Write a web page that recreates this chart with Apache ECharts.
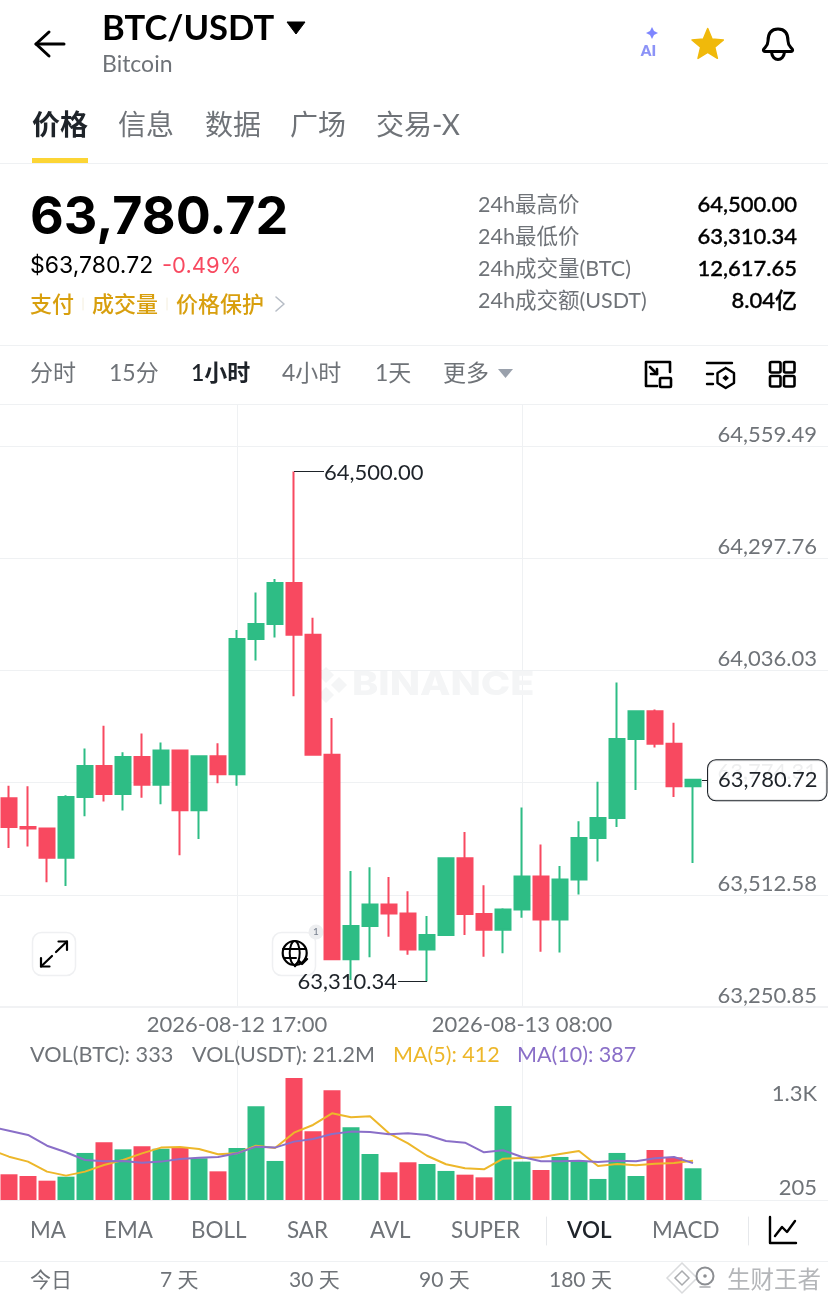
<!DOCTYPE html>
<html><head><meta charset="utf-8">
<style>html,body{margin:0;padding:0;background:#fff}#c{width:828px;height:1304px}</style>
<script src="https://cdn.jsdelivr.net/npm/echarts@6/dist/echarts.min.js"></script>
</head><body><div id="c"></div>
<script>
const categories = [
'2026-08-12 04:00','2026-08-12 05:00','2026-08-12 06:00','2026-08-12 07:00','2026-08-12 08:00','2026-08-12 09:00','2026-08-12 10:00','2026-08-12 11:00','2026-08-12 12:00','2026-08-12 13:00','2026-08-12 14:00','2026-08-12 15:00','2026-08-12 16:00','2026-08-12 17:00','2026-08-12 18:00','2026-08-12 19:00','2026-08-12 20:00','2026-08-12 21:00','2026-08-12 22:00','2026-08-12 23:00',
'2026-08-13 00:00','2026-08-13 01:00','2026-08-13 02:00','2026-08-13 03:00','2026-08-13 04:00','2026-08-13 05:00','2026-08-13 06:00','2026-08-13 07:00','2026-08-13 08:00','2026-08-13 09:00','2026-08-13 10:00','2026-08-13 11:00','2026-08-13 12:00','2026-08-13 13:00','2026-08-13 14:00','2026-08-13 15:00','2026-08-13 16:00','2026-08-13 17:00','2026-08-13 18:00','2026-08-13 19:00','2026-08-13 20:00','2026-08-13 21:00','2026-08-13 22:00','2026-08-13 23:00','2026-08-14 00:00'];
const timeTickLabels = ['2026-08-12 17:00','2026-08-13 08:00'];
const opens  = [null,63738,63671,63667,63599,63741,63813,63748,63834,63769,63849,63710,63836,63794,64109,64144,64240,64119,63839,63362,63440,63490,63469,63385,63419,63598,63468,63431,63478,63555,63455,63548,63645,63692,63876,63941,63865,63766];
const closes = [null,63671,63667,63599,63741,63813,63748,63834,63769,63849,63710,63836,63794,64109,64144,64240,64119,63839,63362,63440,63490,63469,63385,63419,63598,63468,63431,63478,63555,63455,63548,63645,63692,63876,63941,63865,63766,63780.72];
const lows   = [null,63622,63625,63542,63533,63696,63730,63709,63739,63724,63605,63643,63773,63767,64059,64113,63976,63839,63362,63314,63367,63415,63373,63310.34,63419,63419,63368,63376,63459,63380,63378,63513,63590,63671,63757,63856,63741,63587];
const highs  = [null,63767,63766,63667,63745,63854,63907,63845,63889,63868,63849,63836,63866,64130,64218,64249,64500,64159,63925,63568,63577,63554,63521,63463,63598,63659,63535,63481,63716,63630,63580,63684,63776,64008,63941,63945,63914,63782];
const volumes= [null,270,252,203,245,494,606,532,564,539,553,438,301,546,984,410,1281,721,1152,763,483,291,396,378,305,266,238,987,403,315,452,410,221,494,252,525,448,333];
const ma5    = [530,455,403,298,256,298,368,420,490,550,557,536,480,490,570,546,707,788,910,868,879,700,595,465,375,333,322,434,441,448,483,515,357,378,364,381,389,412];
const ma10   = [770,728,683,570,501,420,406,410,392,403,431,444,451,490,560,550,613,641,693,718,714,690,700,683,620,602,501,522,452,406,406,413,399,413,406,438,452,387];
const priceTicks = [63250.85,63512.58,63774.31,64036.03,64297.76,64559.49];
const volTickPositions = [205,1197];
const volTickLabels = ['205','1.3K'];
const highPrice = 64500, lowPrice = 63310.34, lastPrice = 63780.72;

const UP='#2EBD85', DOWN='#F84960', GRAY='#6F7378', INK='#1E2329', LINE='#EFF1F3';
const LATIN="Lato,'Noto Sans CJK SC',sans-serif";
const fmt=v=>v.toLocaleString('en-US',{minimumFractionDigits:2,maximumFractionDigits:2});
const chart=echarts.init(document.getElementById('c'),null,{renderer:'canvas',width:828,height:1304});

echarts.graphic.registerShape('bellDome',echarts.graphic.extendPath('M778 29C769 29 768 36 768 41C768 46 765 47 763.5 49.5C763 51 764 51.5 765 51.5L791 51.5C792 51.5 793 51 792.5 49.5C791 47 788 46 788 41C788 36 787 29 778 29Z'));
echarts.graphic.registerShape('bellClap',echarts.graphic.extendPath('M771.5 52C772 57 775 59.5 778 59.5C781 59.5 784 57 784.5 52'));

const g=[];
const T=(x,y,text,size,fill,weight,align,extra,family)=>g.push({type:'text',z:1,silent:true,style:Object.assign({x,y,text,fill,font:`${weight||400} ${size}px ${family||LATIN}`,textAlign:align||'left',textVerticalAlign:'middle'},extra||{})});
const L=(pts,stroke,w,extra)=>g.push({type:'polyline',z:1,silent:true,shape:{points:pts},style:Object.assign({stroke,lineWidth:w||1,fill:null,lineCap:'round',lineJoin:'round'},extra||{})});
const F=(pts,fill,extra)=>g.push({type:'polygon',z:1,silent:true,shape:{points:pts},style:Object.assign({fill},extra||{})});
const R=(x,y,w,h,r,style)=>g.push({type:'rect',z:1,silent:true,shape:{x,y,width:w,height:h,r},style});
const C=(cx,cy,r,style)=>g.push({type:'circle',z:1,silent:true,shape:{cx,cy,r},style});
const INTER="Inter,'Noto Sans CJK SC',sans-serif";

// header
L([[36,44],[64,44]],'#000',3);L([[49,32],[36,44],[49,56]],'#000',3);
T(102,29,'BTC/USDT',34.6,'#000',700);
F([[287,22],[305,22],[296,34]],'#000',{stroke:'#000',lineWidth:1,lineJoin:'round'});
T(102,65,'Bitcoin',23,GRAY);
F([[652,27],[654,31],[658,33],[654,35],[652,39],[650,35],[646,33],[650,31]],'#7E86FF');
T(648.5,51,'AI',15,'#8C93F7',800,'center');
const star=[];for(let i=0;i<10;i++){const a=-Math.PI/2+i*Math.PI/5,r=i%2?7.4:16.5;star.push([707.7+r*Math.cos(a),45+r*Math.sin(a)]);}
F(star,'#F0B90B',{stroke:'#F0B90B',lineWidth:1.5,lineJoin:'round'});
g.push({type:'bellDome',z:1,silent:true,style:{stroke:'#000',lineWidth:3,fill:null,lineJoin:'round'}});
g.push({type:'bellClap',z:1,silent:true,style:{stroke:'#000',lineWidth:3,fill:null}});
// tabs
T(32,126,'价格',28,INK,600);
[[118,'信息'],[205,'数据'],[290,'广场'],[376,'交易-X']].forEach(a=>T(a[0],126,a[1],28,GRAY));
R(32,158,56,5,0,{fill:'#FCD535'});
[[163],[345],[404],[1261]].forEach(a=>L([[0,a[0]+.5],[828,a[0]+.5]],LINE,1));
// price block
T(30,218,'63,780.72',52,'#000',700,'left',null,INTER);
T(30,266,'$63,780.72',23,'#000',400,'left',null,INTER);
T(162,266,'-0.49%',22,DOWN,400,'left',null,INTER);
T(30,305,'支付',22,'#D89F0E',500);T(92,305,'成交量',22,'#D89F0E',500);T(176,305,'价格保护',22,'#D89F0E',500);
L([[83,298],[83,310]],'#F4EEDC',1);L([[167,298],[167,310]],'#F4EEDC',1);
L([[276,297],[284,304],[276,311]],'#B7BDC6',1.6);
[[205,'24h最高价','64,500.00'],[237,'24h最低价','63,310.34'],[269,'24h成交量(BTC)','12,617.65'],[301,'24h成交额(USDT)','8.04亿']].forEach(r=>{T(478,r[0],r[1],21.5,GRAY);T(797,r[0],r[2],22,'#000',500,'right',{stroke:'#000',lineWidth:.35});});
// interval row
[[30,'分时'],[109,'15分'],[282,'4小时'],[375,'1天'],[443,'更多']].forEach(a=>T(a[0],374,a[1],23,GRAY));
T(191,374,'1小时',23,INK,600);
F([[498,369],[513,369],[505.5,378]],'#9AA1AC');
L([[657,386],[646,386],[646,362],[670,362],[670,372]],'#000',2.6);
R(660,378,11,9,1,{stroke:'#000',lineWidth:2.6,fill:null});
L([[650,367],[657,374]],'#000',2.6);L([[657,369],[657,374],[651,374]],'#000',2.6);
L([[707,363],[732,363]],'#000',2.4);L([[707,374],[713,374]],'#000',2.4);L([[707,384],[713,384]],'#000',2.4);
L([[725.7,368],[734,373],[734,383],[725.7,388],[717.5,383],[717.5,373],[725.7,368]],'#000',2.4);
F([[725.7,375],[729,378],[725.7,381],[722.4,378]],'#000');
[[770,362],[784,362],[770,376],[784,376]].forEach(p=>R(p[0],p[1],10.5,10.5,1.5,{stroke:'#000',lineWidth:2.6,fill:null}));
// watermark
const wm='#F4F5F6';
g.push({type:'text',z:1,silent:true,x:352,y:685,scaleX:1.2,style:{x:0,y:0,text:'BINANCE',fill:wm,font:`800 33px ${INTER}`,textAlign:'left',textVerticalAlign:'middle'}});
F([[326,667],[334,675],[326,683],[318,675]],wm);F([[326,687],[334,695],[326,703],[318,695]],wm);F([[313,677],[321,685],[313,693],[305,685]],wm);F([[339,677],[347,685],[339,693],[331,685]],wm);
// chart buttons
R(32.5,932.5,43,43,9,{stroke:'#EFF0F2',lineWidth:1.5,fill:'#fff'});
L([[41,966.5],[52,956]],'#000',2.2);L([[41,958],[41,966.5],[49.5,966.5]],'#000',2.2);
L([[56,952],[67,941.5]],'#000',2.2);L([[58.5,941.5],[67,941.5],[67,950]],'#000',2.2);
R(272.5,932.5,43,43,9,{stroke:'#EFF0F2',lineWidth:1.5,fill:'#fff'});
C(294.7,953,12,{stroke:'#000',lineWidth:2.2,fill:'#fff'});
g.push({type:'ellipse',z:1,silent:true,shape:{cx:294.7,cy:953,rx:5,ry:12},style:{stroke:'#000',lineWidth:2,fill:null}});
L([[283,949],[306,949]],'#000',2);L([[284,958],[296,958]],'#000',2);
L([[295,966],[299,961],[302,964],[307,959]],'#000',2.4);
C(316,932,7.5,{fill:'#EDEEF0'});T(316,932,'1',10,'#7A8290',500,'center');
// volume legend
T(30,1055,'VOL(BTC): 333',21.7,GRAY);T(192,1055,'VOL(USDT): 21.2M',21.5,GRAY);
T(393,1055,'MA(5): 412',21.5,'#EDB72A');T(517,1055,'MA(10): 387',21.5,'#8A6FC8');
// indicator tabs
[[30,'MA'],[104,'EMA'],[191,'BOLL'],[287,'SAR'],[370,'AVL'],[451,'SUPER'],[652,'MACD']].forEach(a=>T(a[0],1231,a[1],22.4,GRAY));
T(567,1231,'VOL',22.4,INK,600);
L([[546.5,1217],[546.5,1245]],'#E6E8EB',1);L([[748.5,1217],[748.5,1245]],'#E6E8EB',1);
L([[770,1217],[770,1243],[796,1243]],'#000',2.4);L([[775,1236],[782,1227],[787,1232],[795,1221]],'#000',2.4);
// range row
[[30,'今日'],[160,'7 天'],[289,'30 天'],[419,'90 天'],[549,'180 天']].forEach(a=>T(a[0],1280,a[1],21,GRAY));
T(727,1280,'生财王者',23.5,'#B4B6B9');
F([[682,1263],[697,1278],[682,1293],[667,1278]],'none',{stroke:'#DADBDD',lineWidth:1.5});
F([[682,1271],[689,1278],[682,1285],[675,1278]],'none',{stroke:'#A9ABAE',lineWidth:1.5});
C(705,1276,8.5,{stroke:'#8C8E92',lineWidth:2,fill:'none'});C(705,1276,1.8,{fill:'#8C8E92'});
L([[700,1287],[710,1287]],'#A9ABAE',1.5);

const axisFont={fontFamily:LATIN,color:GRAY,fontSize:22};
const candleData=opens.map((o,i)=>o==null?['-','-','-','-']:[o,closes[i],lows[i],highs[i]]);
const volData=volumes.map((v,i)=>v==null?null:{value:v,itemStyle:{color:closes[i]>=opens[i]?UP:DOWN}});
const shown=i=>timeTickLabels.includes(categories[i]);

chart.setOption({
 animation:false,backgroundColor:'#fff',
 graphic:{elements:g},
 grid:[{left:-19.5,width:855,top:405,height:602,outerBoundsMode:'none'},{left:-19.5,width:855,top:1040,height:160,outerBoundsMode:'none'}],
 xAxis:[
  {type:'category',gridIndex:0,data:categories,boundaryGap:true,
   axisLine:{show:true,lineStyle:{color:'#F1F2F4',width:2}},axisTick:{show:false},
   axisLabel:{show:true,interval:shown,margin:7,fontSize:22,color:GRAY,fontFamily:LATIN,hideOverlap:false},
   splitLine:{show:true,interval:shown,alignWithLabel:true,lineStyle:{color:LINE,width:1}}},
  {type:'category',gridIndex:1,data:categories,boundaryGap:true,
   axisLine:{show:true,lineStyle:{color:LINE,width:1}},axisTick:{show:false},axisLabel:{show:false},
   splitLine:{show:true,interval:shown,alignWithLabel:true,lineStyle:{color:LINE,width:1}}}
 ],
 yAxis:[
  {type:'value',gridIndex:0,position:'right',min:63250.85,max:64655.13,scale:true,
   axisLine:{show:false},axisTick:{show:false,customValues:priceTicks},
   axisLabel:Object.assign({inside:true,margin:18.5,align:'right',verticalAlign:'bottom',customValues:priceTicks,formatter:v=>fmt(v),showMinLabel:true,showMaxLabel:true},axisFont),
   splitLine:{show:true,lineStyle:{color:LINE,width:1}}},
  {type:'value',gridIndex:1,position:'right',min:0,max:1680,
   axisLine:{show:false},axisTick:{show:false},splitLine:{show:false},
   axisLabel:Object.assign({inside:true,margin:18.5,align:'right',verticalAlign:'top',lineHeight:15,customValues:volTickPositions,formatter:v=>volTickLabels[volTickPositions.indexOf(v)]},axisFont)}
 ],
 series:[
  {type:'candlestick',name:'BTC/USDT',xAxisIndex:0,yAxisIndex:0,data:candleData,barWidth:15,z:3,silent:true,
   itemStyle:{color:UP,color0:DOWN,borderColor:UP,borderColor0:DOWN,borderWidth:2},
   markPoint:{silent:true,symbol:'circle',symbolSize:0,animation:false,data:[
    {coord:[categories[16],highPrice],label:{show:true,position:'right',distance:30,offset:[0,1.5],formatter:fmt(highPrice),color:INK,fontSize:22,fontFamily:LATIN}},
    {coord:[categories[23],lowPrice],label:{show:true,position:'left',distance:30,offset:[0,.5],formatter:fmt(lowPrice),color:INK,fontSize:22,fontFamily:LATIN}},
    {coord:[categories[37],lastPrice],label:{show:true,position:'right',distance:15,offset:[0,.5],formatter:fmt(lastPrice),color:INK,fontSize:22,fontFamily:LATIN,
      backgroundColor:'rgba(255,255,255,.88)',borderColor:INK,borderWidth:1,borderRadius:8,padding:[9,9,9,10]}}
   ]},
   markLine:{silent:true,symbol:'none',animation:false,label:{show:false},lineStyle:{color:INK,width:1,type:'solid'},data:[
    [{coord:[categories[16],highPrice]},{x:324,y:471.5}],
    [{coord:[categories[23],lowPrice]},{x:398,y:981.5}],
    [{x:702,y:780},{x:708,y:780}]
   ]}},
  {type:'bar',name:'VOL',xAxisIndex:1,yAxisIndex:1,data:volData,barWidth:17,silent:true,z:2},
  {type:'line',name:'MA(5)',xAxisIndex:1,yAxisIndex:1,data:ma5,symbol:'none',smooth:false,silent:true,z:3,lineStyle:{color:'#EDB72A',width:2}},
  {type:'line',name:'MA(10)',xAxisIndex:1,yAxisIndex:1,data:ma10,symbol:'none',smooth:false,silent:true,z:4,lineStyle:{color:'#8A6FC8',width:2}}
 ]
});
</script></body></html>
